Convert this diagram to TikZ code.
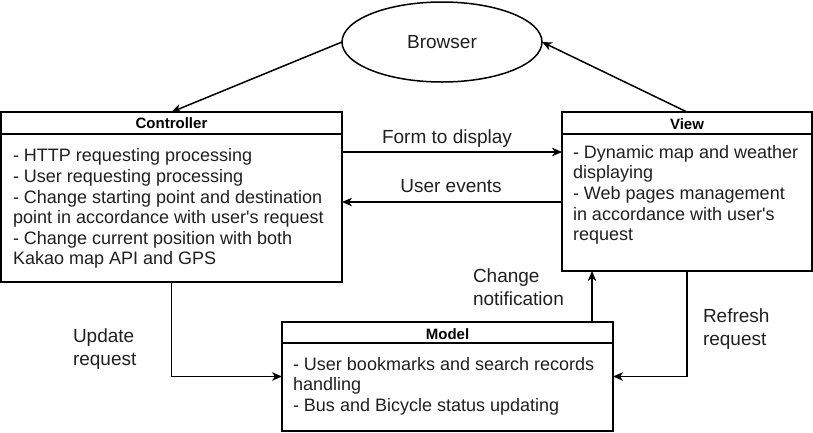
\documentclass[tikz,border=0pt]{standalone}
\usepackage{fontspec}
\setmainfont{Liberation Sans}[Ligatures=TeXOff]
\usetikzlibrary{arrows.meta,calc,shapes.geometric}
\begin{document}
\begin{tikzpicture}[x=1pt,y=-1pt,
  every node/.style={inner sep=0pt,outer sep=0pt},
  ln/.style={line width=1.5pt,draw=black},
  box/.style={ln,rectangle,anchor=north west},
  arr/.style={ln,-{Stealth[length=10pt,width=8.5pt,inset=3pt]}},
  hdr/.style={font=\fontsize{15}{18}\selectfont\bfseries,anchor=base},
  bodytxt/.style={font=\fontsize{18}{20.6}\selectfont,align=left,anchor=north west,text=black!88},
  lbl/.style={font=\fontsize{19}{23}\selectfont,align=left,text=black!88}]
\useasboundingbox (0,0) rectangle (813,432);
% Browser
\node[ln,ellipse,minimum width=200pt,minimum height=80pt,font=\fontsize{19}{23}\selectfont,text=black!88] (B) at (442,42) {Browser};
% Controller
\node[box,minimum width=341pt,minimum height=170pt] (C) at (1,112) {};
\draw[ln] ([yshift=-22pt]C.north west) -- ([yshift=-22pt]C.north east);
\node[hdr] (Ch) at (171.5,128.5) {Controller};
\node[bodytxt] (Cb) at (13,148.8) {- HTTP requesting processing\\- User requesting processing\\- Change starting point and destination\\point in accordance with user's request\\- Change current position with both\\Kakao map API and GPS};
% View
\node[box,minimum width=250pt,minimum height=159pt] (V) at (562,112) {};
\draw[ln] ([yshift=-22pt]V.north west) -- ([yshift=-22pt]V.north east);
\node[hdr] (Vh) at (687,129.3) {View};
\node[bodytxt] (Vb) at (573,145.2) {- Dynamic map and weather\\displaying\\- Web pages management\\in accordance with user's\\request};
% Model
\node[box,minimum width=331pt,minimum height=109pt] (M) at (282,322) {};
\draw[ln] ([yshift=-21pt]M.north west) -- ([yshift=-21pt]M.north east);
\node[hdr] (Mh) at (447.5,339) {Model};
\node[bodytxt] (Mb) at (293,357) {- User bookmarks and search records\\handling\\- Bus and Bicycle status updating};
% connectors
\draw[arr] (B.west) -- (C.north);
\draw[arr] (V.north) -- (B.east);
\draw[arr] ([yshift=-40pt]C.north east) -- ([yshift=-40pt]V.north west);
\draw[arr] ([yshift=-90pt]V.north west) -- ([yshift=-90pt]C.north east);
\draw[arr] (C.south) |- (M.west);
\draw[arr] (V.south) |- (M.east);
\coordinate (Mtop) at ([xshift=-21pt]M.north east);
\draw[arr] (Mtop) -- (Mtop |- V.south);
% labels
\node[lbl,anchor=base] (L1) at (447,143.3) {Form to display};
\node[lbl,anchor=base] (L2) at (451,192.7) {User events};
\node[lbl,anchor=north west] (L3) at (73,328.5) {Update\\request};
\node[lbl,anchor=north west] (L4) at (473,269) {Change\\notification};
\node[lbl,anchor=north west] (L5) at (703,308.5) {Refresh\\request};
\end{tikzpicture}
\end{document}
